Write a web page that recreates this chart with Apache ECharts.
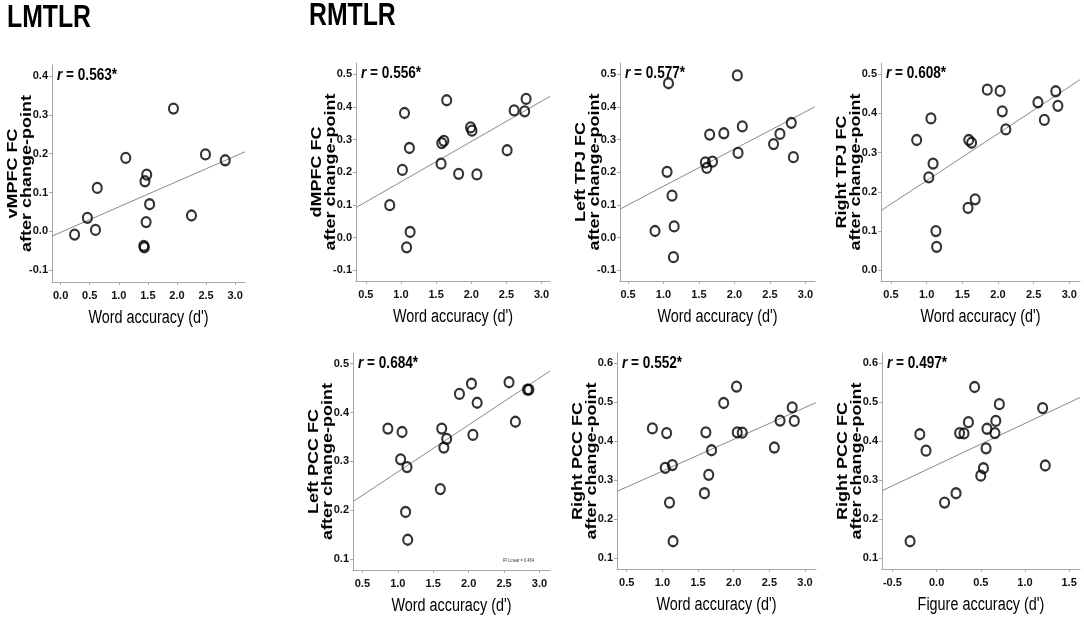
<!DOCTYPE html>
<html>
<head>
<meta charset="utf-8">
<script src="https://cdn.jsdelivr.net/npm/echarts@6/dist/echarts.min.js"></script>
<style>
  html, body { margin: 0; padding: 0; background: #fff; }
  #chart { width: 1084px; height: 623px; }
</style>
</head>
<body>
<div id="chart"></div>
<script>
// word accuracy (d') vs FC after change-point, one pair of arrays per panel
const lmWordX = [0.24, 0.46, 0.60, 0.63, 1.12, 1.43, 1.44, 1.47, 1.45, 1.48, 1.53, 1.94, 2.25, 2.49, 2.83]
const vmpfcY = [-0.008, 0.035, 0.004, 0.112, 0.189, -0.037, -0.041, 0.024, 0.129, 0.146, 0.070, 0.316, 0.041, 0.198, 0.183]

const dmpfcX = [0.84, 1.05, 1.02, 1.12, 1.08, 1.13, 1.65, 1.57, 1.58, 1.61, 1.82, 1.99, 2.01, 2.08, 2.51, 2.61, 2.76, 2.78]
const dmpfcY = [0.099, 0.381, 0.207, 0.274, -0.030, 0.017, 0.420, 0.226, 0.289, 0.296, 0.195, 0.337, 0.327, 0.193, 0.267, 0.389, 0.386, 0.424]

const ltpjX = [0.88, 1.07, 1.05, 1.12, 1.15, 1.14, 1.59, 1.61, 1.69, 1.65, 1.85, 2.04, 2.05, 2.11, 2.55, 2.64, 2.80, 2.83]
const ltpjY = [0.020, 0.472, 0.201, 0.128, 0.034, -0.060, 0.230, 0.213, 0.232, 0.315, 0.319, 0.496, 0.259, 0.340, 0.286, 0.317, 0.351, 0.246]

const rtpjX = [0.86, 1.06, 1.03, 1.09, 1.13, 1.14, 1.59, 1.63, 1.58, 1.68, 1.85, 2.03, 2.06, 2.11, 2.56, 2.65, 2.81, 2.84]
const rtpjY = [0.332, 0.387, 0.237, 0.272, 0.100, 0.060, 0.332, 0.325, 0.159, 0.181, 0.460, 0.457, 0.405, 0.359, 0.428, 0.383, 0.456, 0.419]

const lpccX = [0.86, 1.06, 1.04, 1.13, 1.11, 1.14, 1.60, 1.62, 1.65, 1.69, 1.87, 2.04, 2.06, 2.12, 2.57, 2.66, 2.83, 2.85]
const lpccY = [0.367, 0.360, 0.304, 0.288, 0.196, 0.139, 0.243, 0.367, 0.328, 0.346, 0.438, 0.459, 0.354, 0.420, 0.462, 0.381, 0.447, 0.447]

const rpccX = [0.86, 1.06, 1.04, 1.14, 1.10, 1.15, 1.61, 1.69, 1.65, 1.59, 1.86, 2.04, 2.05, 2.12, 2.57, 2.65, 2.82, 2.85]
const rpccY = [0.433, 0.421, 0.332, 0.339, 0.243, 0.144, 0.423, 0.377, 0.314, 0.267, 0.498, 0.540, 0.423, 0.422, 0.384, 0.453, 0.487, 0.452]

// figure accuracy (d') vs right PCC
const figX = [-0.30, -0.19, -0.12, 0.09, 0.22, 0.26, 0.31, 0.36, 0.43, 0.50, 0.53, 0.57, 0.56, 0.66, 0.67, 0.71, 1.20, 1.23]
const figY = [0.144, 0.418, 0.376, 0.243, 0.267, 0.421, 0.420, 0.449, 0.539, 0.312, 0.331, 0.432, 0.382, 0.421, 0.452, 0.495, 0.485, 0.338]

const rValues = ['0.563*', '0.556*', '0.577*', '0.608*', '0.684*', '0.552*', '0.497*']
const yNames = ['vMPFC FC', 'dMPFC FC', 'Left TPJ FC', 'Right TPJ FC', 'Left PCC FC', 'Right PCC FC', 'Right PCC FC']
const xNames = ["Word accuracy (d')", "Word accuracy (d')", "Word accuracy (d')", "Word accuracy (d')",
  "Word accuracy (d')", "Word accuracy (d')", "Figure accuracy (d')"]

const xTicksWord = [0.5, 1.0, 1.5, 2.0, 2.5, 3.0]
const xTicksLm = [0.0, 0.5, 1.0, 1.5, 2.0, 2.5, 3.0]
const xTicksFig = [-0.5, 0.0, 0.5, 1.0, 1.5]
const yTicksA = [-0.1, 0.0, 0.1, 0.2, 0.3, 0.4]
const yTicksB = [-0.1, 0.0, 0.1, 0.2, 0.3, 0.4, 0.5]
const yTicksC = [0.0, 0.1, 0.2, 0.3, 0.4, 0.5]
const yTicksD = [0.1, 0.2, 0.3, 0.4, 0.5]
const yTicksE = [0.1, 0.2, 0.3, 0.4, 0.5, 0.6]

const SANS = "'Liberation Sans', Arial, sans-serif"

// layout per panel
const panels = [
  { xs: lmWordX, ys: vmpfcY, g: [52, 65, 193, 217], xr: [-0.148, 3.17], yr: [-0.13, 0.428], xt: xTicksLm, yt: yTicksA },
  { xs: dmpfcX, ys: dmpfcY, g: [356, 63, 194, 218], xr: [0.36, 3.12], yr: [-0.133, 0.534], xt: xTicksWord, yt: yTicksB },
  { xs: ltpjX, ys: ltpjY, g: [620, 63, 195, 218], xr: [0.387, 3.134], yr: [-0.133, 0.534], xt: xTicksWord, yt: yTicksB },
  { xs: rtpjX, ys: rtpjY, g: [881, 63, 199, 218], xr: [0.36, 3.15], yr: [-0.027, 0.528], xt: xTicksWord, yt: yTicksC },
  { xs: lpccX, ys: lpccY, g: [353, 353, 197, 217], xr: [0.368, 3.148], yr: [0.077, 0.522], xt: xTicksWord, yt: yTicksD },
  { xs: rpccX, ys: rpccY, g: [617, 353, 199, 216], xr: [0.364, 3.154], yr: [0.073, 0.626], xt: xTicksWord, yt: yTicksE },
  { xs: figX, ys: figY, g: [882, 353, 198, 216], xr: [-0.618, 1.623], yr: [0.073, 0.626], xt: xTicksFig, yt: yTicksE }
]

const fit = (xs, ys) => {
  const n = xs.length
  const mx = xs.reduce((a, b) => a + b, 0) / n
  const my = ys.reduce((a, b) => a + b, 0) / n
  let sxy = 0
  let sxx = 0
  xs.forEach((x, i) => {
    sxy += (x - mx) * (ys[i] - my)
    sxx += (x - mx) * (x - mx)
  })
  const b = sxy / sxx
  return { a: my - b * mx, b }
}

const AXIS_GRAY = '#a8a8a8'
const ring = 'path://M0,-1A1,1,0,1,1,0,1A1,1,0,1,1,0,-1Z'
// the source figure is squeezed sideways, so text gets the same horizontal squeeze
const SQUEEZE = 0.8

const squeezed = (text, x, y, font, align, vAlign, extra) => ({
  type: 'text', x, y, scaleX: SQUEEZE, silent: true, z: 10,
  style: Object.assign({ text, font, fill: '#000', textAlign: align, textVerticalAlign: vAlign }, extra || {})
})
// rotated axis title: after a quarter turn the local y axis lies horizontally
const upright = (text, x, y) => ({
  type: 'text', x, y, rotation: Math.PI / 2, scaleY: SQUEEZE, silent: true, z: 10,
  style: { text, font: 'bold 18px ' + SANS, fill: '#000', textAlign: 'center', textVerticalAlign: 'middle', lineHeight: 17 }
})

const grid = []
const xAxis = []
const yAxis = []
const series = []
const graphic = [
  squeezed('LMTLR', 7, 3, 'bold 31px ' + SANS, 'left', 'top'),
  squeezed('RMTLR', 309, 1, 'bold 31px ' + SANS, 'left', 'top'),
  squeezed('R² Linear = 0.464', 503, 561, '5px ' + SANS, 'left', 'middle', { fill: '#333' })
]

const tickLabel = { fontFamily: SANS, fontSize: 11, fontWeight: 'bold', color: '#111', formatter: v => v.toFixed(1) }

panels.forEach((p, i) => {
  const [gl, gt, gw, gh] = p.g
  grid.push({ left: gl, top: gt, width: gw, height: gh, containLabel: false })
  xAxis.push({
    type: 'value', gridIndex: i, min: p.xr[0], max: p.xr[1],
    axisLine: { show: true, onZero: false, lineStyle: { color: AXIS_GRAY, width: 1 } },
    axisTick: { show: true, length: 3, customValues: p.xt, lineStyle: { color: AXIS_GRAY } },
    axisLabel: Object.assign({ customValues: p.xt, margin: 8 }, tickLabel),
    splitLine: { show: false }
  })
  yAxis.push({
    type: 'value', gridIndex: i, min: p.yr[0], max: p.yr[1],
    axisLine: { show: true, onZero: false, lineStyle: { color: AXIS_GRAY, width: 1 } },
    axisTick: { show: true, length: 3, customValues: p.yt, lineStyle: { color: AXIS_GRAY } },
    axisLabel: Object.assign({ customValues: p.yt, margin: 4 }, tickLabel),
    splitLine: { show: false }
  })
  const f = fit(p.xs, p.ys)
  series.push({
    type: 'line', xAxisIndex: i, yAxisIndex: i, showSymbol: false, silent: true, z: 1,
    lineStyle: { color: '#8a8a8a', width: 1 },
    data: [[p.xr[0], f.a + f.b * p.xr[0]], [p.xr[1], f.a + f.b * p.xr[1]]]
  })
  series.push({
    type: 'scatter', xAxisIndex: i, yAxisIndex: i, symbol: ring, symbolSize: [9, 10], z: 2,
    itemStyle: { color: 'rgba(0,0,0,0)', borderColor: '#000', borderWidth: 2.2 },
    data: p.xs.map((x, k) => [x, p.ys[k]])
  })
  // r label in the top-left corner, axis titles beside and below
  graphic.push(squeezed('{i|r}{t| = ' + rValues[i] + '}', gl + 5, gt + 10, 'bold 17px ' + SANS, 'left', 'middle', {
    rich: {
      i: { fontFamily: SANS, fontSize: 17, fontWeight: 'bold', fontStyle: 'italic', fill: '#000' },
      t: { fontFamily: SANS, fontSize: 17, fontWeight: 'bold', fill: '#000' }
    }
  }))
  graphic.push(squeezed(xNames[i], gl + gw / 2, gt + gh + 36, '18px ' + SANS, 'center', 'middle'))
  graphic.push(upright(yNames[i] + '\nafter change-point', gl - 32, gt + gh / 2))
})

const myChart = echarts.init(document.getElementById('chart'), null, { renderer: 'canvas' })
myChart.setOption({
  backgroundColor: '#fff',
  animation: false,
  grid,
  xAxis,
  yAxis,
  series,
  graphic
})
window.addEventListener('resize', () => myChart.resize())
</script>
</body>
</html>
